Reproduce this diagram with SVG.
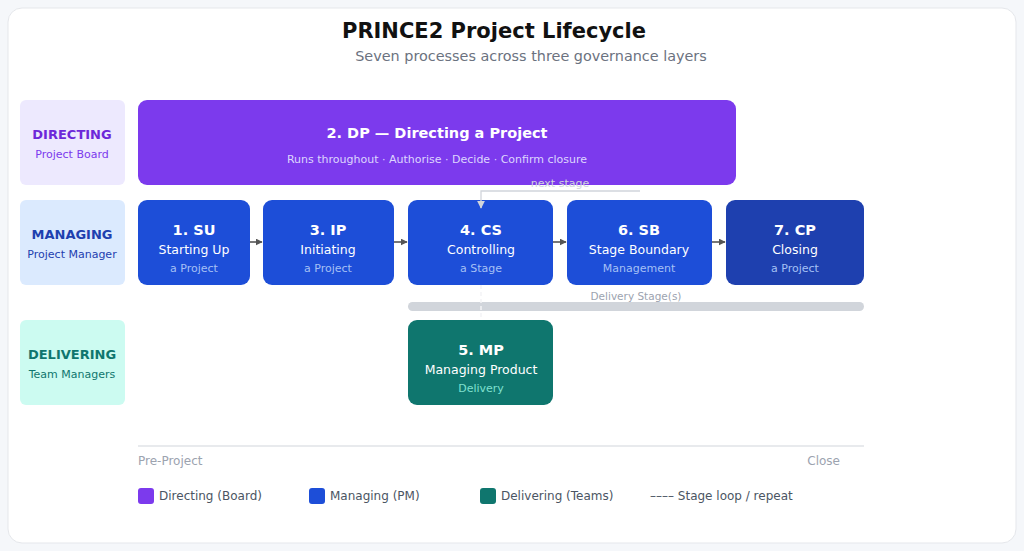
<svg xmlns="http://www.w3.org/2000/svg" width="1024" height="551" viewBox="0 0 1024 551">
<defs>
<marker id="arr" viewBox="0 0 10 10" refX="9" refY="5" markerWidth="7" markerHeight="7" orient="auto" markerUnits="userSpaceOnUse"><path d="M0,0 L10,5 L0,10 z" fill="#555"/></marker>
<marker id="arrL" viewBox="0 0 10 10" refX="9" refY="5" markerWidth="8" markerHeight="8" orient="auto" markerUnits="userSpaceOnUse"><path d="M0,0 L10,5 L0,10 z" fill="#d1d5db"/></marker>
<style>
text{font-family:"DejaVu Sans","Liberation Sans",sans-serif;text-anchor:middle}
.lane{font-weight:bold;font-size:13px}
.lanesub{font-size:11px}
.pid{font-weight:bold;font-size:14.5px;fill:#fff}
.pname{font-size:12.5px;fill:#fff}
.psub{font-size:11px;fill:#a5c0f5}
.flow{stroke:#555;stroke-width:1.6;fill:none;marker-end:url(#arr)}
.muted{font-size:12px;fill:#9ca3af}
.leg{font-size:12px;fill:#4b5563;text-anchor:start}
</style>
</defs>
<rect x="0" y="0" width="1024" height="551" fill="#f5f7fa"/>
<rect x="8" y="8" width="1008" height="535" rx="14" fill="#fff" stroke="#e5e7eb"/>
<text x="494" y="38" font-size="21" font-weight="bold" fill="#111">PRINCE2 Project Lifecycle</text>
<text x="531" y="61" font-size="14.4" fill="#6b7280">Seven processes across three governance layers</text>

<g id="lane-directing">
<rect x="20" y="100" width="105" height="85" rx="6" fill="#ede9fe"/>
<text x="72" y="139" class="lane" fill="#6d28d9">DIRECTING</text>
<text x="72" y="158" class="lanesub" fill="#7c3aed">Project Board</text>
</g>
<g id="lane-managing">
<rect x="20" y="200" width="105" height="85" rx="6" fill="#dbeafe"/>
<text x="72" y="239" class="lane" fill="#1e40af">MANAGING</text>
<text x="72" y="258" class="lanesub" fill="#1e40af">Project Manager</text>
</g>
<g id="lane-delivering">
<rect x="20" y="320" width="105" height="85" rx="6" fill="#ccfbf1"/>
<text x="72" y="359" class="lane" fill="#0f766e">DELIVERING</text>
<text x="72" y="378" class="lanesub" fill="#0f766e">Team Managers</text>
</g>

<g id="stage-bar">
<rect x="408" y="302" width="456" height="9" rx="4.5" fill="#d1d5db"/>
<text x="636" y="300" font-size="10.5" fill="#9ca3af">Delivery Stage(s)</text>
</g>

<g id="dp">
<rect x="138" y="100" width="598" height="85" rx="9" fill="#7c3aed"/>
<text x="437" y="138" class="pid">2. DP — Directing a Project</text>
<text x="437" y="163" font-size="11" fill="#ddd6fe">Runs throughout · Authorise · Decide · Confirm closure</text>
</g>

<g id="su">
<rect x="138" y="200" width="112" height="85" rx="9" fill="#1d4ed8"/>
<text x="194" y="235" class="pid">1. SU</text>
<text x="194" y="254" class="pname">Starting Up</text>
<text x="194" y="272" class="psub">a Project</text>
</g>
<g id="ip">
<rect x="263" y="200" width="131" height="85" rx="9" fill="#1d4ed8"/>
<text x="328" y="235" class="pid">3. IP</text>
<text x="328" y="254" class="pname">Initiating</text>
<text x="328" y="272" class="psub">a Project</text>
</g>
<g id="cs">
<rect x="408" y="200" width="145" height="85" rx="9" fill="#1d4ed8"/>
<text x="481" y="235" class="pid">4. CS</text>
<text x="481" y="254" class="pname">Controlling</text>
<text x="481" y="272" class="psub">a Stage</text>
</g>
<g id="sb">
<rect x="567" y="200" width="145" height="85" rx="9" fill="#1d4ed8"/>
<text x="639" y="235" class="pid">6. SB</text>
<text x="639" y="254" class="pname">Stage Boundary</text>
<text x="639" y="272" class="psub">Management</text>
</g>
<g id="cp">
<rect x="726" y="200" width="138" height="85" rx="9" fill="#1e40af"/>
<text x="795" y="235" class="pid">7. CP</text>
<text x="795" y="254" class="pname">Closing</text>
<text x="795" y="272" class="psub">a Project</text>
</g>
<g id="mp">
<rect x="408" y="320" width="145" height="85" rx="9" fill="#0f766e"/>
<text x="481" y="355" class="pid">5. MP</text>
<text x="481" y="374" class="pname">Managing Product</text>
<text x="481" y="392" font-size="11" fill="#7fe0cf">Delivery</text>
</g>

<g id="connectors">
<line x1="250" y1="242" x2="262" y2="242" class="flow"/>
<line x1="394" y1="242" x2="407" y2="242" class="flow"/>
<line x1="553" y1="242" x2="566" y2="242" class="flow"/>
<line x1="712" y1="242" x2="725" y2="242" class="flow"/>
<polyline points="640,191 481,191 481,208" fill="none" stroke="#d1d5db" stroke-width="1.3" marker-end="url(#arrL)"/>
<text x="560" y="187" font-size="11" fill="#d1d5db">next stage</text>
<line x1="481" y1="285" x2="481" y2="320" stroke="#f3f4f6" stroke-width="1.5" stroke-dasharray="4 3"/>
</g>

<g id="timeline">
<line x1="138" y1="446" x2="864" y2="446" stroke="#d1d5db" stroke-width="1.2"/>
<text x="138" y="465" class="muted" style="text-anchor:start">Pre-Project</text>
<text x="840" y="465" class="muted" style="text-anchor:end">Close</text>
</g>

<g id="legend">
<rect x="138" y="488" width="16" height="16" rx="3" fill="#7c3aed"/>
<text x="159" y="500" class="leg">Directing (Board)</text>
<rect x="309" y="488" width="16" height="16" rx="3" fill="#1d4ed8"/>
<text x="330" y="500" class="leg">Managing (PM)</text>
<rect x="480" y="488" width="16" height="16" rx="3" fill="#0f766e"/>
<text x="501" y="500" class="leg">Delivering (Teams)</text>
<text x="650" y="500" class="leg">–––– Stage loop / repeat</text>
</g>
</svg>
